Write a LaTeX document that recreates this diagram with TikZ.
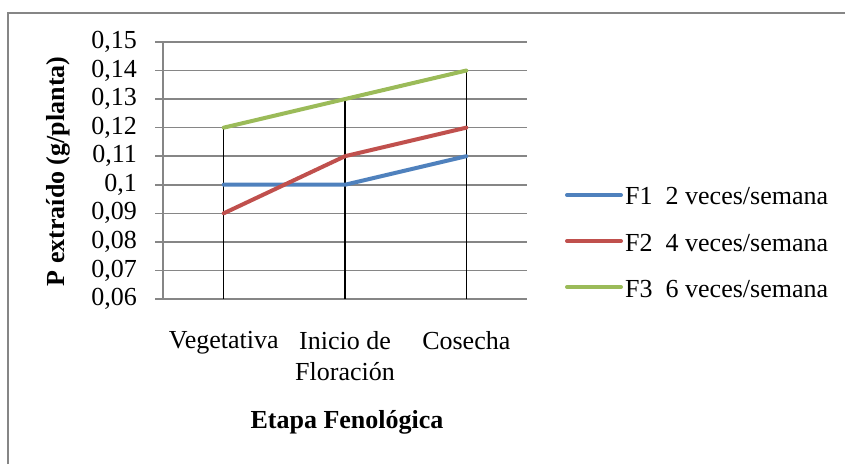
\documentclass[tikz,border=0pt]{standalone}
\usepackage{fontspec}
\setmainfont{Liberation Serif}
\usetikzlibrary{positioning}
\definecolor{fonecolor}{RGB}{79,129,189}
\definecolor{ftwocolor}{RGB}{192,80,77}
\definecolor{fthreecolor}{RGB}{155,187,89}
\definecolor{gridcolor}{RGB}{134,134,134}
\begin{document}
\begin{tikzpicture}[
    x=1pt, y=1pt,
    gridline/.style={draw=gridcolor, line width=1.6pt},
    series/.style={draw=#1, line width=4pt, line cap=round, line join=round},
    dropline/.style={draw=black, line width=1.4pt},
    ticklabel/.style={anchor=east, inner sep=0pt, font=\fontsize{26}{31}\selectfont},
    catlabel/.style={anchor=north, inner sep=0pt, align=center, font=\fontsize{26}{31}\selectfont},
    legendtext/.style={anchor=base west, inner sep=0pt, font=\fontsize{26}{31}\selectfont},
    axistitle/.style={inner sep=0pt, font=\fontsize{26}{31}\selectfont\bfseries}
]
    \useasboundingbox (0,0) rectangle (845,464);
    % chart frame
    \draw[gridcolor, line width=1.6pt] (8,0) -- (8,450.7) -- (845,450.7);

    \begin{scope}[yshift=-6.36pt, y=2856pt]
        % gridlines with tick labels
        \foreach \v/\lab [count=\i] in {0.06/{0,06}, 0.07/{0,07}, 0.08/{0,08}, 0.09/{0,09}, 0.10/{0,1},
                                        0.11/{0,11}, 0.12/{0,12}, 0.13/{0,13}, 0.14/{0,14}, 0.15/{0,15}} {
            \draw[gridline] (155,\v) -- (527,\v);
            \node[ticklabel] (tick\i) at (137,\v) {\lab};
        }
        \draw[gridline] (163,0.06) -- (163,0.15);

        % data points per stage
        \coordinate (base-a) at (223.7,0.06);
        \coordinate (base-b) at (345,0.06);
        \coordinate (base-c) at (466.3,0.06);
        \foreach \s/\a/\b/\c in {f1/0.10/0.10/0.11, f2/0.09/0.11/0.12, f3/0.12/0.13/0.14} {
            \coordinate (\s-a) at (223.7,\a);
            \coordinate (\s-b) at (345,\b);
            \coordinate (\s-c) at (466.3,\c);
        }

        % drop lines
        \draw[dropline] (f3-a) -- (base-a);
        \draw[dropline] (f3-b) -- (base-b);
        \draw[dropline] (f3-c) -- (base-c);

        % series
        \draw[series=fonecolor] (f1-a) -- (f1-b) -- (f1-c);
        \draw[series=ftwocolor] (f2-a) -- (f2-b) -- (f2-c);
        \draw[series=fthreecolor] (f3-a) -- (f3-b) -- (f3-c);
    \end{scope}

    % category labels
    \node[catlabel] (vege) at (223.7,133) {Vegetativa};
    \node[catlabel] (flor) at (345,133) {Inicio de\\Floración};
    \node[catlabel] (cose) at (466.3,133) {Cosecha};

    % axis titles
    \node[axistitle] (xtitle) at (347,36) [anchor=base] {Etapa Fenológica};
    \node[axistitle, rotate=90] (ytitle) at (58.5,292.5) {P extraído (g/planta)};

    % legend
    \node[legendtext] (leg1) at (625,259) {F1~ 2 veces/semana};
    \node[legendtext] (leg2) at (625,213) {F2~ 4 veces/semana};
    \node[legendtext] (leg3) at (625,167) {F3~ 6 veces/semana};
    \coordinate (key1) at (567,269);
    \coordinate (key2) at (567,223);
    \coordinate (key3) at (567,177);
    \draw[series=fonecolor] (key1) -- ++(54,0);
    \draw[series=ftwocolor] (key2) -- ++(54,0);
    \draw[series=fthreecolor] (key3) -- ++(54,0);
\end{tikzpicture}
\end{document}
